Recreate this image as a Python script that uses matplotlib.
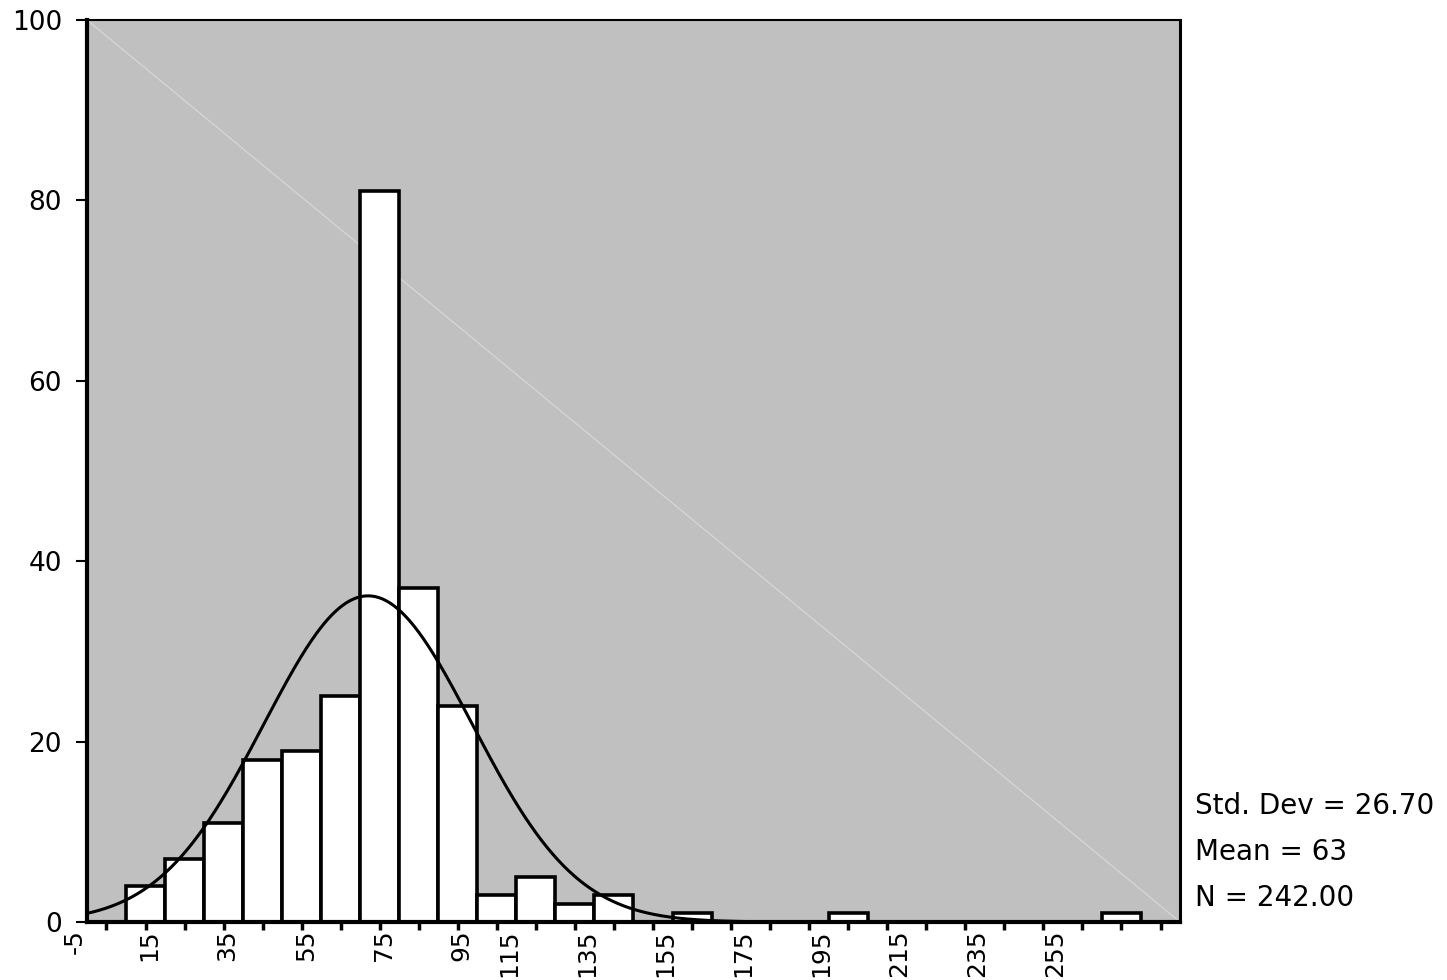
import numpy as np
import matplotlib.pyplot as plt
from matplotlib import transforms

# bin midpoints and counts
midpoints = [15, 25, 35, 45, 55, 65, 75, 85, 95, 105, 115, 125, 135, 145,
             155, 165, 175, 185, 195, 205, 215, 225, 235, 245, 255, 265]
counts = [4, 7, 11, 18, 19, 25, 81, 37, 24, 3, 5, 2, 3, 0,
          1, 0, 0, 0, 1, 0, 0, 0, 0, 0, 0, 1]
tick_positions = [5, 15, 25, 35, 45, 55, 65, 75, 85, 95, 105, 115, 125, 135, 145,
                  155, 165, 175, 185, 195, 205, 215, 225, 235, 245, 255, 265, 275]
tick_labels = ["-5", "15", "35", "55", "75", "95", "115", "135", "155",
               "175", "195", "215", "235", "255"]

std_dev = 26.70
mean = 63
n_total = 242
bin_width = 10
curve_center = 72  # where the fitted curve peaks on the drawn axis

fig = plt.figure(figsize=(14.47, 9.8), dpi=100)
ax = fig.add_axes([0.0601, 0.0592, 0.7554, 0.9204])
ax.set_facecolor("#c0c0c0")
ax.set_xlim(0, 280)
ax.set_ylim(0, 100)

# faint diagonal artifact
ax.plot([0, 280], [100, 0], color="#d9d9d9", lw=0.8, zorder=1)

xs = [m for m, c in zip(midpoints, counts) if c > 0]
hs = [c for c in counts if c > 0]
ax.bar(xs, hs, width=bin_width, color="white", edgecolor="black",
       linewidth=2.6, zorder=2)

# normal curve
x = np.linspace(0, 280, 600)
y = n_total * bin_width / (std_dev * np.sqrt(2 * np.pi)) * \
    np.exp(-0.5 * ((x - curve_center) / std_dev) ** 2)
keep = y > 0.05
ax.plot(x[keep], y[keep], color="black", lw=2.2, zorder=3)

# axes styling
for side in ["left", "bottom"]:
    ax.spines[side].set_linewidth(3)
ax.spines["top"].set_linewidth(1.5)
ax.spines["right"].set_linewidth(2.2)

ax.set_yticks([0, 20, 40, 60, 80, 100])
ax.tick_params(axis="y", length=8, width=1.5, pad=10, labelsize=19)
ax.set_xticks(tick_positions)
ax.set_xticklabels([])
ax.tick_params(axis="x", length=6, width=2.5, direction="out")

# rotated x labels, placed as the original software did
label_vals = [-5] + list(range(15, 256, 20))
for val, lab in zip(label_vals, tick_labels):
    dx = 4 if len(lab) <= 2 else -27
    if lab == "-5":
        dx = 7
    tr = transforms.blended_transform_factory(ax.transData, ax.transAxes) + \
        transforms.ScaledTranslation(dx / 100, 0, fig.dpi_scale_trans)
    ax.text(val, -0.008, lab, transform=tr, rotation=90, ha="center", va="top",
            fontsize=18, clip_on=False)

# summary statistics
stats = ["Std. Dev = %.2f" % std_dev, "Mean = %d" % mean, "N = %.2f" % n_total]
for i, s in enumerate(stats):
    fig.text(1195 / 1447, 1 - (806 + 46 * i) / 980, s, fontsize=20,
             ha="left", va="center")

fig.savefig("out.png", dpi=100)
